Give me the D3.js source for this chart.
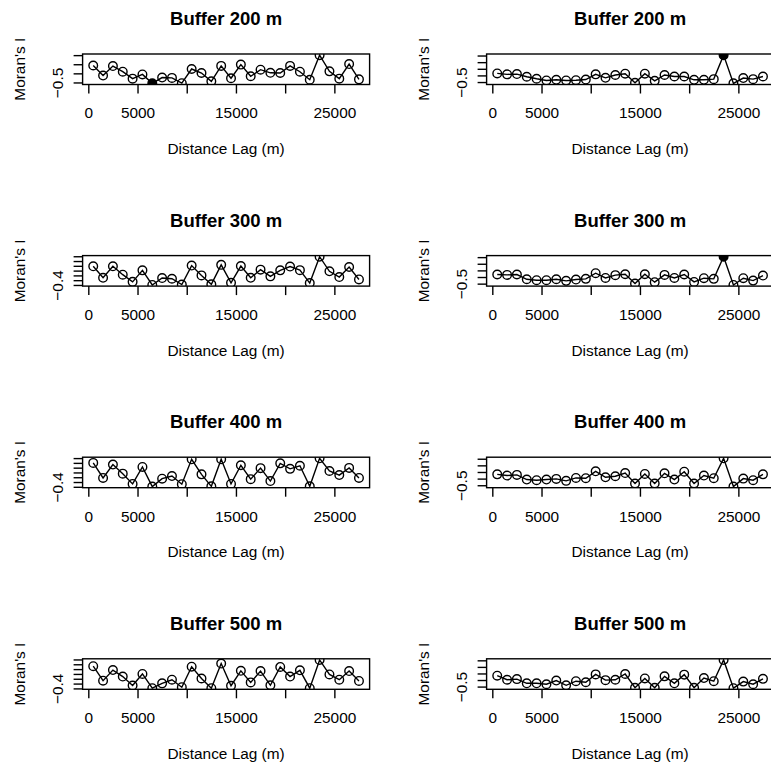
<!DOCTYPE html>
<html>
<head>
<meta charset="utf-8">
<script src="https://cdn.jsdelivr.net/npm/d3@7"></script>
<style>
  body { margin: 0; background: #fff; }
  text { font-family: "Liberation Sans", Arial, sans-serif; }
</style>
</head>
<body>
<svg id="chart" width="771" height="764"></svg>
<script>
// lag distance classes (m)
var lags = [500, 1500, 2500, 3500, 4500, 5500, 6500, 7500, 8500, 9500,
            10500, 11500, 12500, 13500, 14500, 15500, 16500, 17500, 18500, 19500,
            20500, 21500, 22500, 23500, 24500, 25500, 26500, 27500];

var titles = ["Buffer 200 m", "Buffer 200 m", "Buffer 300 m", "Buffer 300 m",
              "Buffer 400 m", "Buffer 400 m", "Buffer 500 m", "Buffer 500 m"];

// Moran's I per lag, left and right column
var left200  = [0.43, -0.12, 0.40, 0.09, -0.29, -0.06, -0.55, -0.23, -0.25, -0.54, 0.24, 0.02, -0.44, 0.41,
                -0.27, 0.48, -0.16, 0.20, 0.03, 0.02, 0.41, 0.09, -0.35, 1.00, 0.11, -0.29, 0.51, -0.33];
var right200 = [0.15, 0.08, 0.10, -0.10, -0.25, -0.38, -0.33, -0.38, -0.36, -0.31, 0.08, -0.18, 0.03, 0.13,
                -0.56, 0.13, -0.41, 0.03, -0.08, -0.08, -0.33, -0.33, -0.28, 1.53, -0.60, -0.20, -0.28, -0.08];
var left300  = [0.38, -0.10, 0.38, 0.03, -0.27, 0.21, -0.40, -0.11, -0.14, -0.38, 0.41, 0.00, -0.37, 0.44,
                -0.31, 0.39, -0.10, 0.24, -0.04, 0.21, 0.37, 0.22, -0.32, 0.78, 0.17, -0.07, 0.35, -0.17];
var right300 = [0.19, 0.16, 0.19, -0.17, -0.24, -0.24, -0.17, -0.29, -0.19, -0.14, 0.29, -0.07, 0.14, 0.21,
                -0.49, 0.21, -0.39, 0.16, -0.07, 0.19, -0.37, -0.09, -0.14, 1.53, -0.60, -0.09, -0.27, 0.11];
var left400  = [0.60, -0.03, 0.53, 0.15, -0.28, 0.43, -0.39, -0.06, 0.05, -0.29, 0.75, 0.12, -0.38, 0.75,
                -0.28, 0.50, -0.08, 0.38, -0.16, 0.58, 0.35, 0.48, -0.38, 0.79, 0.26, 0.09, 0.39, -0.03];
var right400 = [0.32, 0.23, 0.28, -0.07, -0.12, -0.07, -0.02, -0.17, 0.05, 0.03, 0.55, 0.10, 0.18, 0.42,
                -0.37, 0.35, -0.37, 0.40, -0.07, 0.52, -0.37, 0.23, 0.03, 1.53, -0.60, 0.00, -0.12, 0.32];
var left500  = [0.52, -0.08, 0.36, 0.09, -0.28, 0.20, -0.39, -0.19, -0.04, -0.35, 0.50, 0.01, -0.39, 0.63,
                -0.29, 0.33, -0.15, 0.32, -0.27, 0.49, 0.09, 0.35, -0.39, 0.78, 0.18, -0.04, 0.32, -0.09];
var right500 = [0.33, 0.02, 0.07, -0.25, -0.25, -0.32, -0.04, -0.40, -0.09, -0.17, 0.43, -0.01, 0.02, 0.46,
                -0.59, 0.12, -0.59, 0.28, -0.25, 0.41, -0.59, 0.15, -0.09, 1.53, -0.62, -0.12, -0.32, 0.09];

// indices of the lags drawn as filled (significant) points
var signif200L = [6];
var signif200R = [23];
var signif300R = [23];

var xTicks = [0, 5000, 10000, 15000, 20000, 25000];
var yTicksWide = [-0.5, 0, 0.5, 1.0, 1.5];
var yTicksNarrow = [-0.4, -0.2, 0, 0.2, 0.4, 0.6, 0.8];

var series = [left200, right200, left300, right300, left400, right400, left500, right500];
var signif = [signif200L, signif200R, [], signif300R, [], [], [], []];
var yTicks = [yTicksWide, yTicksWide, yTicksNarrow, yTicksWide,
              yTicksNarrow, yTicksWide, yTicksNarrow, yTicksWide];

var svg = d3.select("#chart");
var fs = 15.4;          // base font size
var boxLeft = [82.6, 486.6];
var boxTop = 54, rowStep = 201.6;
var boxW = 287, boxH = 30.5;
var tick = 9;
var gapM = 0.833 * fs;  // R leaves an "m" wide gap between axis labels

// drop labels that would overlap the previous drawn one, as R does
function thinLabels(sel, pos) {
	var last = null;
	sel.each(function(d) {
		var w = this.getComputedTextLength() / 2;
		var p = pos(d);
		if (last && p - last.p < last.w + w + gapM) {
			d3.select(this).remove();
		} else {
			last = {p: p, w: w};
		}
	});
}

function drawPanel(vals, k) {
	var col = k % 2, row = Math.floor(k / 2);
	var g = svg.append("g")
		.attr("transform", "translate(" + boxLeft[col] + "," + (boxTop + row * rowStep) + ")");

	var xr = lags[lags.length - 1] - lags[0];
	var x = d3.scaleLinear()
		.domain([lags[0] - 0.04 * xr, lags[lags.length - 1] + 0.04 * xr])
		.range([0, boxW]);
	var ext = d3.extent(vals);
	var pad = (ext[1] - ext[0]) * 0.04;
	var y = d3.scaleLinear()
		.domain([ext[0] - pad, ext[1] + pad])
		.range([boxH, 0]);

	var clipId = "clip" + k;
	g.append("clipPath").attr("id", clipId)
		.append("rect").attr("width", boxW).attr("height", boxH);

	var plot = g.append("g").attr("clip-path", "url(#" + clipId + ")");
	var pts = lags.map(function(d, i) { return [d, vals[i], signif[k].indexOf(i) >= 0]; });

	plot.append("path")
		.datum(pts)
		.attr("fill", "none")
		.attr("stroke", "#000")
		.attr("stroke-width", 1.4)
		.attr("d", d3.line().x(function(d) { return x(d[0]); }).y(function(d) { return y(d[1]); }));

	plot.selectAll("circle")
		.data(pts)
		.enter().append("circle")
		.attr("cx", function(d) { return x(d[0]); })
		.attr("cy", function(d) { return y(d[1]); })
		.attr("r", 4.3)
		.attr("fill", function(d) { return d[2] ? "#000" : "none"; })
		.attr("stroke", "#000")
		.attr("stroke-width", 1.4);

	g.append("rect")
		.attr("width", boxW).attr("height", boxH)
		.attr("fill", "none").attr("stroke", "#000").attr("stroke-width", 1.4);

	// x axis
	var xa = g.append("g")
		.attr("transform", "translate(0," + boxH + ")")
		.call(d3.axisBottom(x).tickValues(xTicks).tickSize(tick).tickPadding(14)
			.tickFormat(d3.format("d")));
	xa.select(".domain").remove();
	xa.selectAll(".tick line").attr("stroke-width", 1.4);
	xa.selectAll("text").attr("font-size", fs).attr("fill", "#000").attr("font-family", null);
	thinLabels(xa.selectAll("text"), function(d) { return x(d); });

	// y axis, labels parallel to the axis
	var yt = yTicks[k].filter(function(d) { return d >= y.domain()[0] && d <= y.domain()[1]; });
	var ya = g.append("g")
		.call(d3.axisLeft(y).tickValues(yt).tickSize(tick).tickFormat(d3.format(".1f")));
	ya.select(".domain").remove();
	ya.selectAll(".tick line").attr("stroke-width", 1.4);
	ya.selectAll("text")
		.attr("x", null).attr("dy", null)
		.attr("text-anchor", "middle")
		.attr("transform", "translate(-20,0) rotate(-90)")
		.attr("font-size", fs).attr("fill", "#000").attr("font-family", null);
	thinLabels(ya.selectAll("text"), function(d) { return -y(d); });

	g.append("text")
		.attr("x", boxW / 2).attr("y", -29)
		.attr("text-anchor", "middle")
		.attr("font-size", 18.5).attr("font-weight", "bold")
		.text(titles[k]);

	g.append("text")
		.attr("x", boxW / 2).attr("y", boxH + 69.5)
		.attr("text-anchor", "middle")
		.attr("font-size", fs)
		.text("Distance Lag (m)");

	g.append("text")
		.attr("transform", "translate(-57.6," + boxH / 2 + ") rotate(-90)")
		.attr("text-anchor", "middle")
		.attr("font-size", fs)
		.text("Moran's I");
}

series.forEach(drawPanel);
</script>
</body>
</html>
